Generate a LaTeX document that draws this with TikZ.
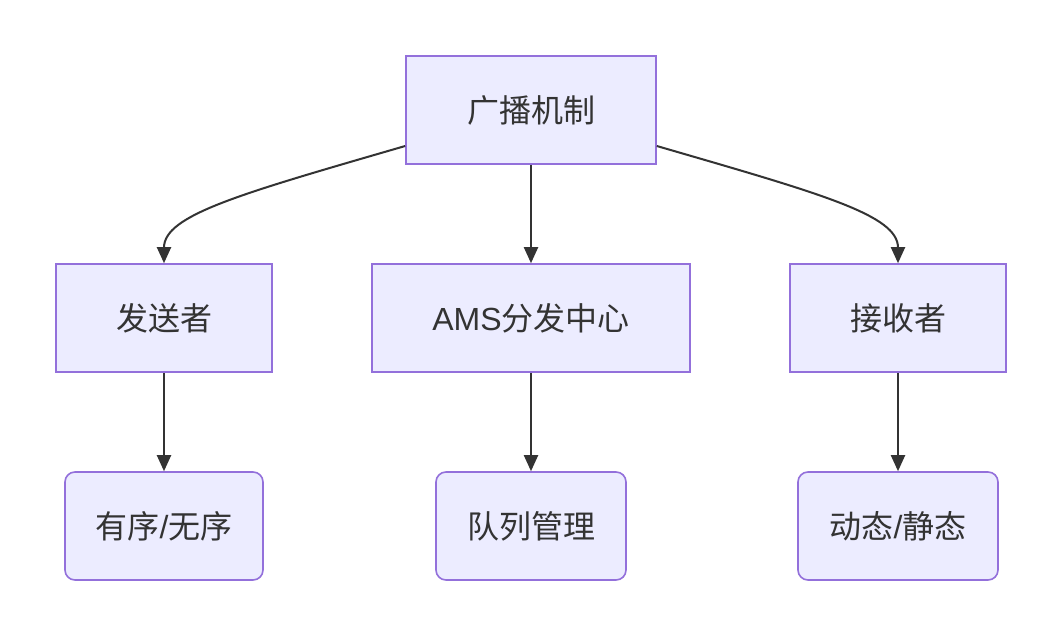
\documentclass[tikz,border=0pt]{standalone}
\usepackage{fontspec}
\setmainfont{Liberation Sans}
\newfontfamily\cjk{Noto Sans CJK SC}
\usetikzlibrary{arrows.meta}
\definecolor{nodefill}{HTML}{ECECFF}
\definecolor{nodeline}{HTML}{9370DB}
\definecolor{txt}{HTML}{333333}
\tikzset{
  box/.style={draw=nodeline, fill=nodefill, line width=1.6pt, text=txt, inner sep=0pt,
    font=\fontsize{32}{38}\selectfont\cjk},
  rbox/.style={box, rounded corners=10pt},
  link/.style={draw=txt, line width=2pt, -{Triangle[length=16pt,width=14pt]}}
}
\begin{document}
\begin{tikzpicture}[x=1pt,y=-1pt]
\useasboundingbox (0,0) rectangle (1061,636);
\fill[white] (0,0) rectangle (1061,636);
\node[box, minimum width=250pt, minimum height=108pt] (root) at (531,110) {广播机制};
\node[box, minimum width=216pt, minimum height=108pt] (send) at (164,318) {发送者};
\node[box, minimum width=318pt, minimum height=108pt] (ams) at (531,318) {{\fontspec{Liberation Sans}AMS}分发中心};
\node[box, minimum width=216pt, minimum height=108pt] (recv) at (898,318) {接收者};
\node[rbox, minimum width=198pt, minimum height=108pt] (order) at (164,526) {有序{\fontspec{Liberation Sans}/}无序};
\node[rbox, minimum width=190pt, minimum height=108pt] (queue) at (531,526) {队列管理};
\node[rbox, minimum width=200pt, minimum height=108pt] (dyn) at (898,526) {动态{\fontspec{Liberation Sans}/}静态};
\draw[link] (root.west |- 0,146) .. controls (240,194) and (164,215) .. (send.north);
\draw[link] (root.east |- 0,146) .. controls (822,194) and (898,215) .. (recv.north);
\draw[link] (root.south) -- (ams.north);
\draw[link] (send.south) -- (order.north);
\draw[link] (ams.south) -- (queue.north);
\draw[link] (recv.south) -- (dyn.north);
\end{tikzpicture}
\end{document}
